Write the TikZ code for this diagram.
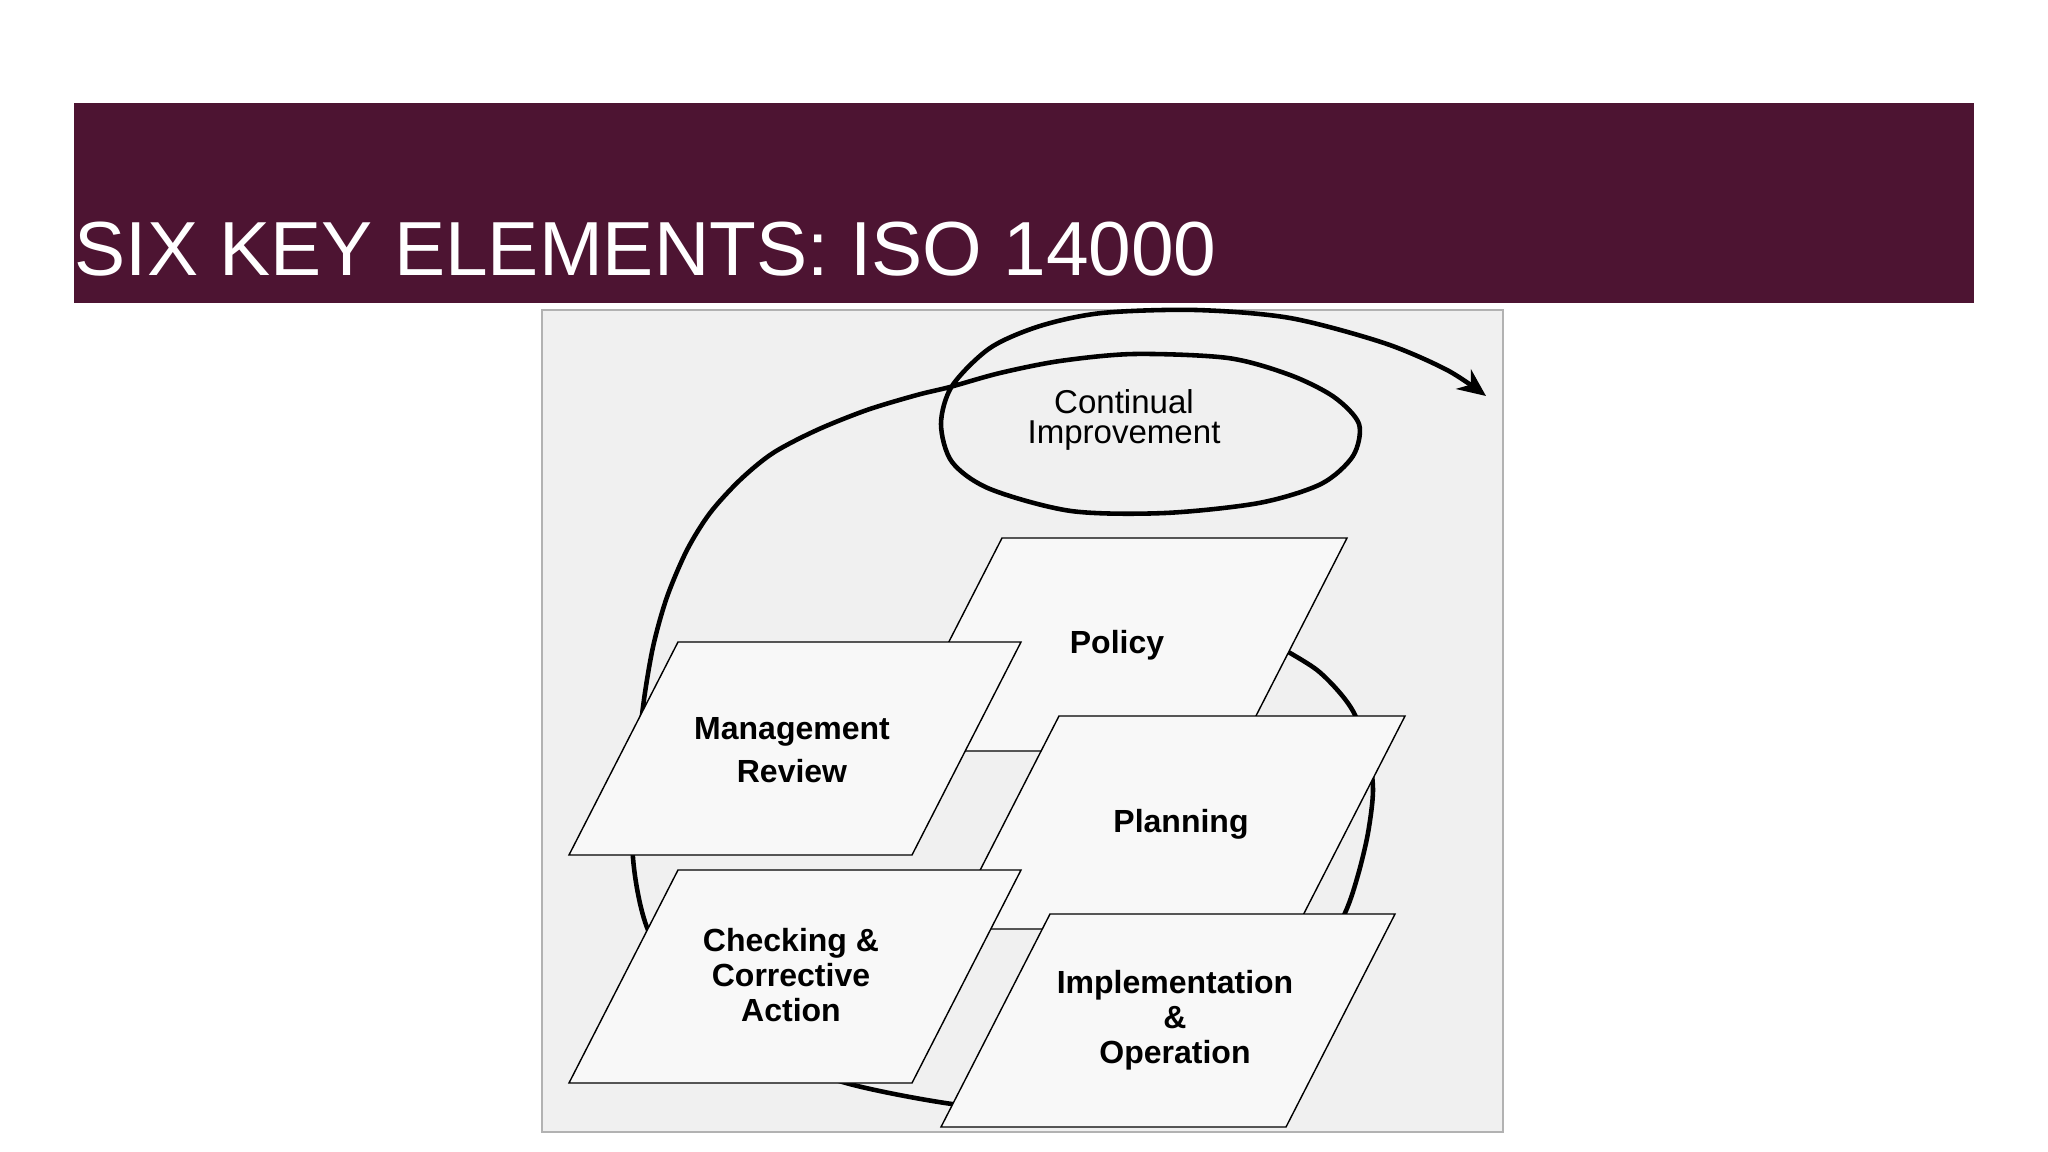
\documentclass[tikz,border=0pt]{standalone}
\usepackage{fontspec}
\setmainfont{Liberation Sans}
\usetikzlibrary{arrows.meta}
\definecolor{bannercol}{HTML}{4D1432}
\definecolor{framecol}{HTML}{F0F0F0}
\definecolor{boxcol}{HTML}{F8F8F8}
\tikzstyle{element} = [draw=black, fill=boxcol, line width=0.4pt, line join=miter]
\tikzstyle{elemtext} = [font=\bfseries\fontsize{9.1}{10}\selectfont, align=center, inner sep=0pt]
\tikzstyle{loopline} = [line width=1.3pt, line cap=round, -{Stealth[length=8pt,width=7pt]}]
\tikzset{
  title text/.style = {
    anchor=base west,
    inner sep=0pt,
    text=white,
    font=\fontsize{21.8}{26}\selectfont},
  loop text/.style = {
    align=center,
    inner sep=0pt,
    font=\fontsize{9.4}{8.6}\selectfont},
}

\begin{document}
\begin{tikzpicture}[x=0.01cm,y=-0.01cm]
    \fill[white] (0,0) rectangle (2048,1152);
    \useasboundingbox (0,0) rectangle (2048,1152);

    % title bar
    \fill[bannercol] (74,103) rectangle (1974,303);
    \node[title text] (title) at (74,276) {SIX KEY ELEMENTS: ISO 14000};

    % picture frame
    \draw[draw=gray!60, fill=framecol, line width=0.4pt] (542,310) rectangle (1503,1132);

    % the improvement spiral
    \draw[loopline] plot[smooth] coordinates {
        (1200,612) (1250,630) (1285,650) (1317,670) (1340,693) (1355,715)
        (1368,752) (1373,790) (1368,833) (1358,875) (1345,913) (1315,970)
        (1265,1030) (1200,1075) (1120,1102) (1040,1110) (952,1104) (846,1083)
        (760,1050) (690,995) (648,930) (633,858) (636,780) (643,707)
        (653,647) (667,597) (687,550) (710,513) (740,480) (773,453)
        (817,430) (867,410) (917,395) (950,387) (1000,373) (1060,361)
        (1134,354) (1228,358) (1290,375) (1334,397) (1359,424) (1353,456)
        (1321,484) (1259,503) (1165,513) (1071,511) (990,489) (952,462)
        (941,424) (952,386) (990,348) (1040,326) (1102,313) (1196,310)
        (1290,318) (1384,343) (1447,370) (1486,396)};
    \node[loop text] (improve) at (1124,420) {Continual\\Improvement};

    % elements
    \draw[element] (1002,538) -- ++(345,0) -- ++(-109,213) -- ++(-345,0) -- cycle;
    \node[elemtext] (policy) at (1117,645) {Policy};

    \draw[element] (1059,716) -- ++(346,0) -- ++(-109,213) -- ++(-346,0) -- cycle;
    \node[elemtext] (planning) at (1181,824) {Planning};

    \draw[element] (678,642) -- ++(343,0) -- ++(-109,213) -- ++(-343,0) -- cycle;
    \node[elemtext, font=\bfseries\fontsize{9.1}{12.2}\selectfont] (review) at (792,750) {Management\\Review};

    \draw[element] (678,870) -- ++(343,0) -- ++(-109,213) -- ++(-343,0) -- cycle;
    \node[elemtext] (checking) at (791,975) {Checking \&\\Corrective\\Action};

    \draw[element] (1050,914) -- ++(345,0) -- ++(-109,213) -- ++(-345,0) -- cycle;
    \node[elemtext] (implement) at (1175,1020) {Implementation\\\&\\Operation};
\end{tikzpicture}
\end{document}
